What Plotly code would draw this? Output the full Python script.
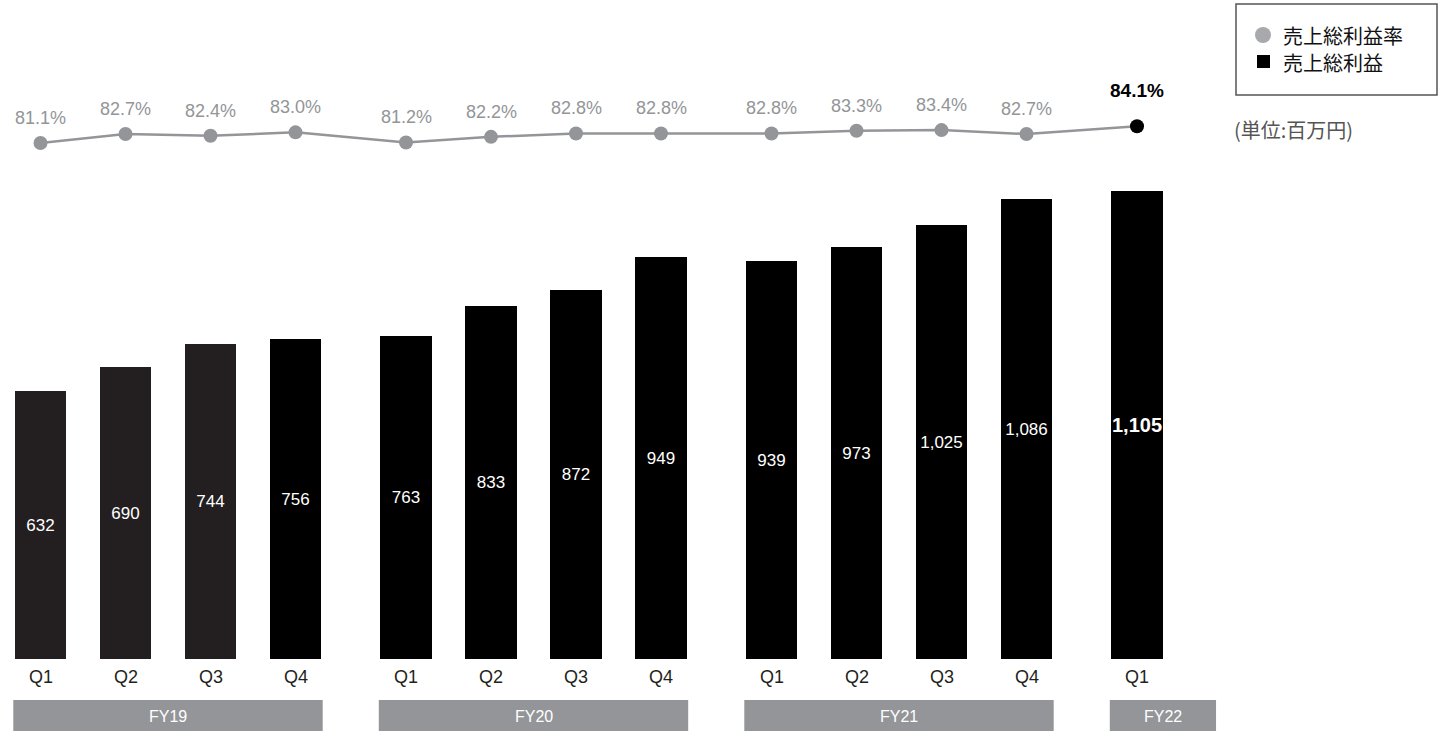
import plotly.graph_objects as go

# Quarterly gross profit (百万円) and gross margin (%)
years = ["FY19", "FY20", "FY21", "FY22"]
quarters_per_year = [4, 4, 4, 1]
quarter_labels = ["Q1", "Q2", "Q3", "Q4", "Q1", "Q2", "Q3", "Q4", "Q1", "Q2", "Q3", "Q4", "Q1"]
gross_profit = [632, 690, 744, 756, 763, 833, 872, 949, 939, 973, 1025, 1086, 1105]
gross_margin = [81.1, 82.7, 82.4, 83.0, 81.2, 82.2, 82.8, 82.8, 82.8, 83.3, 83.4, 82.7, 84.1]

W, H = 1439, 731
SLOT = 85.0          # pixels per quarter slot
YEAR_GAP = 0.3       # extra slot fraction between fiscal years
GRAY = "#939598"
FONT = "Liberation Sans, Arial, sans-serif"
CJK = "Noto Sans CJK JP, sans-serif"

# x positions: quarter index plus a gap after each fiscal year
xs, year_of = [], []
i = 0
for yi, n in enumerate(quarters_per_year):
    for _ in range(n):
        xs.append(i + YEAR_GAP * yi)
        year_of.append(yi)
        i += 1

bar_colors = ["#231f20" if (year_of[k] == 0 and k < 3) else "#000000" for k in range(len(xs))]
last = len(xs) - 1
bar_text = [f"{v:,}" for v in gross_profit]
bar_text[last] = f"<b>{gross_profit[last]:,}</b>"
bar_sizes = [17] * len(xs)
bar_sizes[last] = 20

fig = go.Figure()
fig.add_trace(go.Bar(
    x=xs, y=gross_profit, width=0.61,
    marker=dict(color=bar_colors, line=dict(width=0)),
    text=bar_text, textposition="inside", insidetextanchor="middle",
    textangle=0, constraintext="none",
    textfont=dict(color="white", size=bar_sizes, family=FONT),
    hoverinfo="skip", showlegend=False,
))

marker_colors = [GRAY] * len(xs)
marker_colors[last] = "#000000"
fig.add_trace(go.Scatter(
    x=xs, y=gross_margin, yaxis="y2", mode="lines+markers",
    line=dict(color=GRAY, width=2.5),
    marker=dict(size=14, color=marker_colors),
    hoverinfo="skip", showlegend=False,
))

annotations = []
# margin labels above the points
for k, (x, v) in enumerate(zip(xs, gross_margin)):
    is_last = k == last
    annotations.append(dict(
        x=x, y=v, xref="x", yref="y2", yshift=36 if is_last else 25,
        text=f"<b>{v:.1f}%</b>" if is_last else f"{v:.1f}%",
        showarrow=False, yanchor="middle",
        font=dict(size=19 if is_last else 18, color="#000000" if is_last else GRAY, family=FONT),
    ))

# quarter labels under bars
for x, q in zip(xs, quarter_labels):
    annotations.append(dict(
        x=x, y=1 - 677 / H, xref="x", yref="paper", text=q, showarrow=False,
        yanchor="middle",
        font=dict(size=18, color="#231f20", family=FONT),
    ))

# fiscal year bands
shapes = []
half_bar = 0.32
start = 0
for yi, (name, n) in enumerate(zip(years, quarters_per_year)):
    x0 = xs[start] - half_bar
    x1 = max(xs[start + n - 1] + half_bar, x0 + 1.25)
    shapes.append(dict(type="rect", xref="x", yref="paper", x0=x0, x1=x1,
                       y0=0, y1=1 - 700 / H, fillcolor=GRAY, line=dict(width=0), layer="below"))
    annotations.append(dict(x=(x0 + x1) / 2, y=1 - 716 / H, xref="x", yref="paper", text=name,
                            showarrow=False, yanchor="middle",
                            font=dict(size=16, color="white", family=FONT)))
    start += n

# legend box
def px(xp):
    return xp / W

def py(yp):
    return 1 - yp / H

shapes.append(dict(type="rect", xref="paper", yref="paper", x0=px(1236), x1=px(1437),
                   y0=py(95), y1=py(4), line=dict(color="#555555", width=1.5), fillcolor="white"))
shapes.append(dict(type="circle", xref="paper", yref="paper", x0=px(1255), x1=px(1271),
                   y0=py(43), y1=py(27), line=dict(width=0), fillcolor="#a7a9ac"))
shapes.append(dict(type="rect", xref="paper", yref="paper", x0=px(1257), x1=px(1270),
                   y0=py(68), y1=py(55), line=dict(width=0), fillcolor="#000000"))
annotations.append(dict(x=px(1281), y=py(35), xref="paper", yref="paper", xanchor="left",
                        yanchor="middle", text="売上総利益率", showarrow=False,
                        font=dict(size=20, color="#111111", family=CJK)))
annotations.append(dict(x=px(1281), y=py(62), xref="paper", yref="paper", xanchor="left",
                        yanchor="middle", text="売上総利益", showarrow=False,
                        font=dict(size=20, color="#111111", family=CJK)))
annotations.append(dict(x=px(1232), y=py(130), xref="paper", yref="paper", xanchor="left",
                        yanchor="middle", text="(単位:百万円)", showarrow=False,
                        font=dict(size=20, color="#555555", family=CJK)))

# axis ranges chosen so the baseline sits at y=659px and bars scale at 0.4236 px/unit
bar_scale = 0.4236
base_px = 659
y_lo = -(H - base_px) / bar_scale
y_hi = base_px / bar_scale
line_scale = 5.6
ref_v, ref_px = 81.1, 143
y2_hi = ref_v + ref_px / line_scale
y2_lo = ref_v - (H - ref_px) / line_scale
x_lo = -40.5 / SLOT
x_hi = (W - 40.5) / SLOT

fig.update_layout(
    width=W, height=H,
    margin=dict(l=0, r=0, t=0, b=0),
    paper_bgcolor="white", plot_bgcolor="white",
    xaxis=dict(range=[x_lo, x_hi], visible=False, fixedrange=True),
    yaxis=dict(range=[y_lo, y_hi], visible=False, fixedrange=True),
    yaxis2=dict(range=[y2_lo, y2_hi], visible=False, overlaying="y", fixedrange=True),
    shapes=shapes, annotations=annotations,
    bargap=0,
)

fig.write_html("out.html", config={"displayModeBar": False})
